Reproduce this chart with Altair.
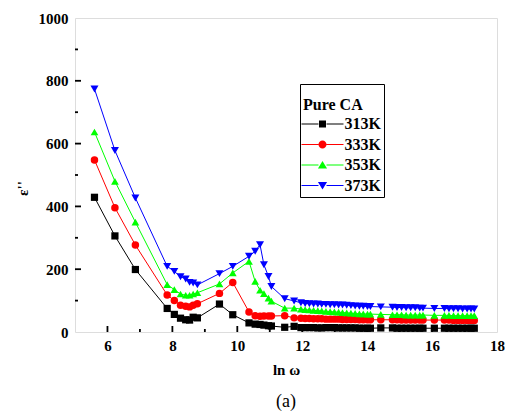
import altair as alt
import pandas as pd

ln_omega = [5.60, 6.23, 6.86, 7.84, 8.06, 8.25, 8.41, 8.53, 8.64, 8.77,
            9.45, 9.86, 10.36, 10.55, 10.70, 10.82, 10.96, 11.05, 11.46, 11.75,
            11.96, 12.09, 12.22, 12.35, 12.48, 12.60, 12.73, 12.86, 12.99, 13.12,
            13.24, 13.37, 13.50, 13.63, 13.76, 13.88, 14.01, 14.10,
            14.42, 14.78, 14.92, 15.06, 15.20, 15.34, 15.48, 15.62, 15.72, 16.07,
            16.38, 16.52, 16.66, 16.80, 16.94, 17.08, 17.20, 17.30]

eps_313 = [429, 306, 199, 75, 56, 44, 39, 38, 47, 45, 89, 55, 29, 25, 24, 22, 20, 19, 15, 18,
           14, 14, 14, 14, 13, 13, 14, 14, 14, 13, 13, 13, 13, 13, 12, 12, 12, 12,
           13, 13, 12, 12, 12, 12, 12, 12, 12, 12, 12, 12, 12, 12, 12, 12, 12, 12]
eps_333 = [548, 396, 277, 118, 100, 85, 82, 80, 85, 90, 123, 158, 64, 52, 50, 51, 51, 51, 52, 45,
           44, 43, 43, 42, 42, 42, 41, 41, 41, 41, 40, 40, 40, 40, 39, 39, 39, 39,
           39, 39, 39, 38, 38, 38, 38, 38, 38, 38, 38, 38, 37, 37, 37, 37, 37, 37]
eps_353 = [637, 480, 350, 151, 135, 121, 117, 117, 121, 125, 153, 188, 225, 161, 133, 122, 108, 98, 76, 76,
           73, 71, 70, 69, 68, 67, 66, 65, 64, 63, 62, 61, 60, 59, 58, 58, 57, 57,
           56, 55, 55, 55, 54, 54, 54, 54, 54, 53, 53, 53, 52, 52, 52, 52, 52, 52]
eps_373 = [774, 578, 427, 209, 193, 176, 169, 158, 156, 150, 186, 209, 241, 257, 278, 214, 177, 145, 106, 99,
           93, 91, 90, 89, 89, 88, 88, 87, 87, 86, 86, 85, 84, 83, 82, 82, 81, 81,
           80, 79, 78, 78, 77, 77, 77, 76, 76, 75, 75, 74, 74, 74, 73, 73, 73, 73]

temps = ["313K", "333K", "353K", "373K"]
colors = ["#000000", "#ff0000", "#00ff00", "#0000ff"]
shapes = ["square", "circle", "triangle-up", "triangle-down"]
marker_sizes = [52, 64, 90, 90]

x_major = [6, 8, 10, 12, 14, 16, 18]
x_minor = [5, 7, 9, 11, 13, 15, 17]
y_major = [0, 200, 400, 600, 800, 1000]
y_minor = [100, 300, 500, 700, 900]

rows = []
for t, series in zip(temps, [eps_313, eps_333, eps_353, eps_373]):
    for xv, yv in zip(ln_omega, series):
        rows.append({"x": xv, "y": yv, "T": t})
df = pd.DataFrame(rows)

W, H = 422, 314
FONT = "Liberation Serif"

seg = "M-6,-0.15H-1.15V0.15H-6Z M1.15,-0.15H6V0.15H1.15Z "
legend_paths = [
    seg + "M-1,-1H1V1H-1Z",
    seg + "M-1.15,0A1.15,1.15 0 1,0 1.15,0A1.15,1.15 0 1,0 -1.15,0Z",
    seg + "M0,-1.15L1.3,1.0L-1.3,1.0Z",
    seg + "M0,1.15L1.3,-1.0L-1.3,-1.0Z",
]

xs = alt.Scale(domain=[5, 18], nice=False, zero=False)
ysc = alt.Scale(domain=[0, 1000], nice=False)

x_axis = alt.Axis(values=x_major, ticks=False, domain=False, grid=False, title="ln ω", format="d",
                  labelPadding=6, titlePadding=9, labelFlush=False)
y_axis = alt.Axis(values=y_major, ticks=False, domain=False, grid=False, title="ε''", format="d",
                  labelPadding=7, titleX=-45, titleY=170, labelFlush=False)

X = alt.X("x:Q", scale=xs, axis=x_axis)
Y = alt.Y("y:Q", scale=ysc, axis=y_axis)

lines = alt.Chart(df).mark_line(strokeWidth=1).encode(
    x=X, y=Y,
    color=alt.Color("T:N", scale=alt.Scale(domain=temps, range=colors), legend=None),
    detail="T:N",
)

points = alt.Chart(df).mark_point(filled=True, opacity=1).encode(
    x=X, y=Y,
    color=alt.Color("T:N", scale=alt.Scale(domain=temps, range=colors), legend=None),
    shape=alt.Shape("T:N", scale=alt.Scale(domain=temps, range=shapes), legend=None),
    size=alt.Size("T:N", scale=alt.Scale(domain=temps, range=marker_sizes), legend=None),
)

leg = dict(orient="none", legendX=225, legendY=66, title=["", "Pure CA"],
           titleFont=FONT, titleFontSize=16, titleFontWeight="bold", titleColor="black",
           titleLineHeight=10, titlePadding=3, titleAnchor="start",
           labelFont=FONT, labelFontSize=16, labelFontWeight="bold", labelColor="black",
           symbolSize=49, symbolStrokeWidth=0, symbolOffset=11.5, labelOffset=14,
           rowPadding=4.5, padding=3, strokeColor="black", fillColor="white",
           labelExpr="datum.label + '      '")

legend_layer = alt.Chart(df).transform_filter("false").mark_point(filled=True, opacity=1, size=49).encode(
    x=X, y=Y,
    color=alt.Color("T:N", scale=alt.Scale(domain=temps, range=colors), legend=alt.Legend(**leg)),
    shape=alt.Shape("T:N", scale=alt.Scale(domain=temps, range=legend_paths), legend=alt.Legend(**leg)),
)

xt_major = alt.Chart(pd.DataFrame({"x": x_major[:-1]})).mark_rule(color="black", strokeWidth=1.8).encode(
    x=X, y=alt.value(H), y2=alt.value(H - 6))
xt_minor = alt.Chart(pd.DataFrame({"x": x_minor[1:]})).mark_rule(color="black", strokeWidth=1.8).encode(
    x=X, y=alt.value(H), y2=alt.value(H - 3))
yt_major = alt.Chart(pd.DataFrame({"y": y_major[1:-1]})).mark_rule(color="black", strokeWidth=1.8).encode(
    y=Y, x=alt.value(0), x2=alt.value(6))
yt_minor = alt.Chart(pd.DataFrame({"y": y_minor})).mark_rule(color="black", strokeWidth=1.8).encode(
    y=Y, x=alt.value(0), x2=alt.value(3))

chart = alt.layer(lines, points, legend_layer, xt_major, xt_minor, yt_major, yt_minor).resolve_scale(
    color="independent", shape="independent"
).properties(
    width=W, height=H,
    padding={"left": 75, "top": 18, "right": 8, "bottom": 80},
    autosize=alt.AutoSizeParams(type="none"),
    title=alt.TitleParams("(a)", orient="bottom", anchor="middle", font=FONT, fontSize=18,
                          fontWeight="normal", color="black", offset=16),
).configure_view(stroke="black", strokeWidth=2).configure(background="white").configure_axis(
    labelFont=FONT, labelFontSize=15, labelFontWeight="bold", labelColor="black",
    titleFont=FONT, titleFontSize=15, titleFontWeight="bold", titleColor="black",
)

chart.save("out.html", embed_options={"renderer": "svg", "actions": False})
